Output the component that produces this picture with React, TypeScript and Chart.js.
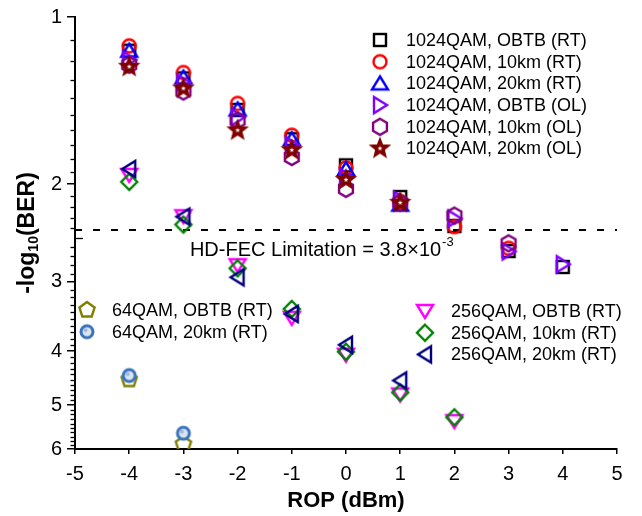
import React, { useEffect, useRef } from "react";
import { Chart, registerables } from "chart.js";

Chart.register(...registerables);

// ---------- data ----------
const rop1024 = [-4, -3, -2, -1, 0, 1, 2, 3, 4];
const rop256 = [-4, -3, -2, -1, 0, 1, 2];
const rop64 = [-4, -3];

const q1024ObtbRT = [1.15, 1.29, 1.47, 1.66, 1.85, 2.11, 2.38, 2.64, 2.82];
const q1024Km10RT = [1.127, 1.259, 1.431, 1.633, 1.87, 2.15, 2.385, 2.61];
const q1024Km20RT = [1.15, 1.285, 1.467, 1.66, 1.878, 2.178];
const q1024ObtbOL = [1.194, 1.313, 1.516, 1.701, 1.941, 2.134, 2.307, 2.644, 2.789];
const q1024Km10OL = [1.219, 1.362, 1.535, 1.787, 2.039, 2.16, 2.279, 2.557];
const q1024Km20OL = [1.229, 1.345, 1.6, 1.737, 1.965, 2.161];

const q256ObtbRT = [1.925, 2.285, 2.8, 3.483, 4.058, 4.786, 5.346];
const q256Km10RT = [1.981, 2.365, 2.836, 3.356, 4.008, 4.746, 5.26];
const q256Km20RT = [1.878, 2.289, 2.943, 3.426, 3.894, 4.516];

const q64ObtbRT = [4.498, 5.88];
const q64Km20RT = [4.424, 5.62];

const yMajorTicks = [1, 2, 3, 4, 5, 6];
const xMin = -5;
const xMax = 5;
const fecBER = 3.8e-3;
const fecLabel = "HD-FEC Limitation = 3.8\u00d710";
const fecExp = "-3";

const FONT = '"Liberation Sans", Arial, Helvetica, sans-serif';

type Series = { label: string; xs: number[]; ys: number[]; marker: string; color: string; group: number };

const series: Series[] = [
  { label: "1024QAM, OBTB (RT)", xs: rop1024, ys: q1024ObtbRT, marker: "square", color: "#000000", group: 0 },
  { label: "1024QAM, 10km (RT)", xs: rop1024, ys: q1024Km10RT, marker: "circle", color: "#ff0000", group: 0 },
  { label: "1024QAM, 20km (RT)", xs: rop1024, ys: q1024Km20RT, marker: "triUp", color: "#0000ff", group: 0 },
  { label: "1024QAM, OBTB (OL)", xs: rop1024, ys: q1024ObtbOL, marker: "triRight", color: "#8000ff", group: 0 },
  { label: "1024QAM, 10km (OL)", xs: rop1024, ys: q1024Km10OL, marker: "hexagon", color: "#800080", group: 0 },
  { label: "1024QAM, 20km (OL)", xs: rop1024, ys: q1024Km20OL, marker: "star", color: "#800000", group: 0 },
  { label: "64QAM, OBTB (RT)", xs: rop64, ys: q64ObtbRT, marker: "pentagon", color: "#808000", group: 1 },
  { label: "64QAM, 20km (RT)", xs: rop64, ys: q64Km20RT, marker: "sphere", color: "#3a72bd", group: 1 },
  { label: "256QAM, OBTB (RT)", xs: rop256, ys: q256ObtbRT, marker: "triDown", color: "#ff00ff", group: 2 },
  { label: "256QAM, 10km (RT)", xs: rop256, ys: q256Km10RT, marker: "diamond", color: "#008000", group: 2 },
  { label: "256QAM, 20km (RT)", xs: rop256, ys: q256Km20RT, marker: "triLeft", color: "#000080", group: 2 },
];

// ---------- markers ----------
function makeMarker(kind: string, color: string): HTMLCanvasElement {
  const S = 26;
  const c = document.createElement("canvas");
  c.width = S;
  c.height = S;
  const g = c.getContext("2d")!;
  g.translate(S / 2, S / 2);
  g.strokeStyle = color;
  g.lineWidth = 2.4;
  g.lineJoin = "miter";
  const poly = (n: number, r: number, rot: number) => {
    g.beginPath();
    for (let i = 0; i < n; i++) {
      const a = rot + (i * 2 * Math.PI) / n;
      const px = r * Math.cos(a);
      const py = r * Math.sin(a);
      if (i) g.lineTo(px, py);
      else g.moveTo(px, py);
    }
    g.closePath();
  };
  const tri = (rot: number) => {
    g.save();
    g.rotate(rot);
    g.beginPath();
    g.moveTo(0, -7);
    g.lineTo(8, 6);
    g.lineTo(-8, 6);
    g.closePath();
    g.stroke();
    g.restore();
  };
  const starPath = (ro: number, ri: number) => {
    g.beginPath();
    for (let i = 0; i < 10; i++) {
      const r = i % 2 === 0 ? ro : ri;
      const a = -Math.PI / 2 + (i * Math.PI) / 5;
      const px = r * Math.cos(a);
      const py = r * Math.sin(a);
      if (i) g.lineTo(px, py);
      else g.moveTo(px, py);
    }
    g.closePath();
  };
  switch (kind) {
    case "square":
      g.strokeRect(-6, -6, 12, 12);
      break;
    case "circle":
      g.beginPath();
      g.arc(0, 0, 6.5, 0, Math.PI * 2);
      g.stroke();
      break;
    case "triUp":
      tri(0);
      break;
    case "triRight":
      tri(Math.PI / 2);
      break;
    case "triDown":
      tri(Math.PI);
      break;
    case "triLeft":
      tri(-Math.PI / 2);
      break;
    case "diamond":
      g.beginPath();
      g.moveTo(0, -8);
      g.lineTo(8, 0);
      g.lineTo(0, 8);
      g.lineTo(-8, 0);
      g.closePath();
      g.stroke();
      break;
    case "hexagon":
      poly(6, 8, -Math.PI / 2);
      g.stroke();
      break;
    case "pentagon":
      poly(5, 8, -Math.PI / 2);
      g.stroke();
      break;
    case "star": {
      starPath(8.6, 3.7);
      g.fillStyle = color;
      g.lineWidth = 2.4;
      g.fill();
      g.stroke();
      starPath(2.6, 1.1);
      g.fillStyle = "#ffffff";
      g.fill();
      break;
    }
    case "sphere": {
      g.beginPath();
      g.arc(0, 0, 6, 0, Math.PI * 2);
      g.fillStyle = "#dbe5f2";
      g.fill();
      g.lineWidth = 3;
      g.stroke();
      g.beginPath();
      g.arc(-1.5, -1.5, 2, 0, Math.PI * 2);
      g.fillStyle = "#9fb8da";
      g.fill();
      break;
    }
  }
  return c;
}

export default function App() {
  const ref = useRef<HTMLCanvasElement | null>(null);

  useEffect(() => {
    if (!ref.current) return;
    const markers = series.map((s) => makeMarker(s.marker, s.color));
    const fecY = -Math.log10(fecBER);

    const datasets: any[] = series.map((s, i) => ({
      label: s.label,
      data: s.ys.map((y, k) => ({ x: s.xs[k], y })),
      pointStyle: markers[i],
      pointRadius: 8,
      showLine: false,
      order: series.length - i,
    }));
    datasets.push({
      label: "HD-FEC",
      data: [
        { x: xMin, y: fecY },
        { x: xMax, y: fecY },
      ],
      showLine: true,
      borderColor: "#000000",
      borderWidth: 2,
      borderDash: [7, 11],
      pointRadius: 0,
      order: 100,
    });

    const overlay = {
      id: "overlay",
      afterDraw(chart: any) {
        const ctx: CanvasRenderingContext2D = chart.ctx;
        const { left } = chart.chartArea;
        const xs = chart.scales.x;
        const ys = chart.scales.y;
        ctx.save();
        // minor y ticks
        ctx.strokeStyle = "#000";
        ctx.lineWidth = 1.3;
        for (let k = 11; k < 60; k++) {
          if (k % 10 === 0) continue;
          const py = Math.round(ys.getPixelForValue(k / 10)) + 0.5;
          ctx.beginPath();
          if (k === 25) {
            ctx.moveTo(left, py);
            ctx.lineTo(left + 8, py);
          } else {
            ctx.moveTo(left - 4.5, py);
            ctx.lineTo(left, py);
          }
          ctx.stroke();
        }

        // legends
        ctx.fillStyle = "#000";
        ctx.font = `18px ${FONT}`;
        ctx.textBaseline = "middle";
        ctx.textAlign = "left";
        const groupPos = [
          { mx: 380, tx: 406, y0: 40, dy: 21.7 },
          { mx: 87, tx: 112, y0: 310, dy: 21.7 },
          { mx: 425, tx: 451, y0: 311, dy: 21.7 },
        ];
        const counters = [0, 0, 0];
        series.forEach((s, i) => {
          const p = groupPos[s.group];
          const y = p.y0 + counters[s.group] * p.dy;
          counters[s.group]++;
          const m = markers[i];
          ctx.drawImage(m, p.mx - m.width / 2, y - m.height / 2);
          ctx.fillText(s.label, p.tx, y + 1);
        });

        // FEC annotation
        const fx = xs.getPixelForValue(-2.88);
        const fy = ys.getPixelForValue(fecY) + 26;
        ctx.textBaseline = "alphabetic";
        ctx.font = `20px ${FONT}`;
        ctx.fillText(fecLabel, fx, fy);
        const w1 = ctx.measureText(fecLabel).width;
        ctx.font = `13px ${FONT}`;
        ctx.fillText(fecExp, fx + w1 + 1, fy - 10);

        // y title
        ctx.translate(26, (chart.chartArea.top + chart.chartArea.bottom) / 2);
        ctx.rotate(-Math.PI / 2);
        const big = `bold 23px ${FONT}`;
        const small = `bold 14px ${FONT}`;
        ctx.font = big;
        const wa = ctx.measureText("-log").width;
        const wc = ctx.measureText("(BER)").width;
        ctx.font = small;
        const wb = ctx.measureText("10").width;
        const total = wa + wb + wc;
        let x0 = -total / 2;
        ctx.textBaseline = "alphabetic";
        ctx.font = big;
        ctx.fillText("-log", x0, 8);
        x0 += wa;
        ctx.font = small;
        ctx.fillText("10", x0, 12);
        x0 += wb;
        ctx.font = big;
        ctx.fillText("(BER)", x0, 8);
        ctx.restore();
      },
    };

    const chart = new Chart(ref.current, {
      type: "scatter",
      data: { datasets },
      options: {
        animation: false,
        responsive: false,
        events: [],
        layout: { padding: { left: 0, right: 25, top: 14, bottom: 0 } },
        plugins: { legend: { display: false }, tooltip: { enabled: false } },
        scales: {
          x: {
            type: "linear",
            min: xMin,
            max: xMax,
            afterFit: (s: any) => {
              s.height = 67;
            },
            ticks: {
              stepSize: 1,
              color: "#000",
              font: { family: FONT, size: 20 },
              padding: 8,
            },
            grid: {
              drawOnChartArea: false,
              drawTicks: true,
              tickLength: 5,
              color: "#000",
              lineWidth: 1.5,
            },
            border: { display: true, color: "#000", width: 2 },
            title: {
              display: true,
              text: "ROP (dBm)",
              color: "#000",
              font: { family: FONT, size: 22, weight: "bold" },
              padding: { top: 0, bottom: 2 },
            },
          },
          y: {
            type: "logarithmic",
            min: 1,
            max: 6,
            reverse: true,
            afterFit: (s: any) => {
              s.width = 75;
            },
            afterBuildTicks: (s: any) => {
              s.ticks = yMajorTicks.map((v) => ({ value: v }));
            },
            ticks: {
              color: "#000",
              font: { family: FONT, size: 20 },
              padding: 5,
              callback: (v: any) => String(v),
            },
            grid: {
              drawOnChartArea: false,
              drawTicks: true,
              tickLength: 8,
              color: "#000",
              lineWidth: 1.5,
            },
            border: { display: true, color: "#000", width: 2 },
          },
        },
      },
      plugins: [overlay],
    } as any);
    return () => chart.destroy();
  }, []);

  return (
    <div style={{ position: "fixed", left: 0, top: 0, width: 642, height: 516, background: "#fff" }}>
      <canvas ref={ref} width={642} height={516} style={{ display: "block" }} />
    </div>
  );
}
